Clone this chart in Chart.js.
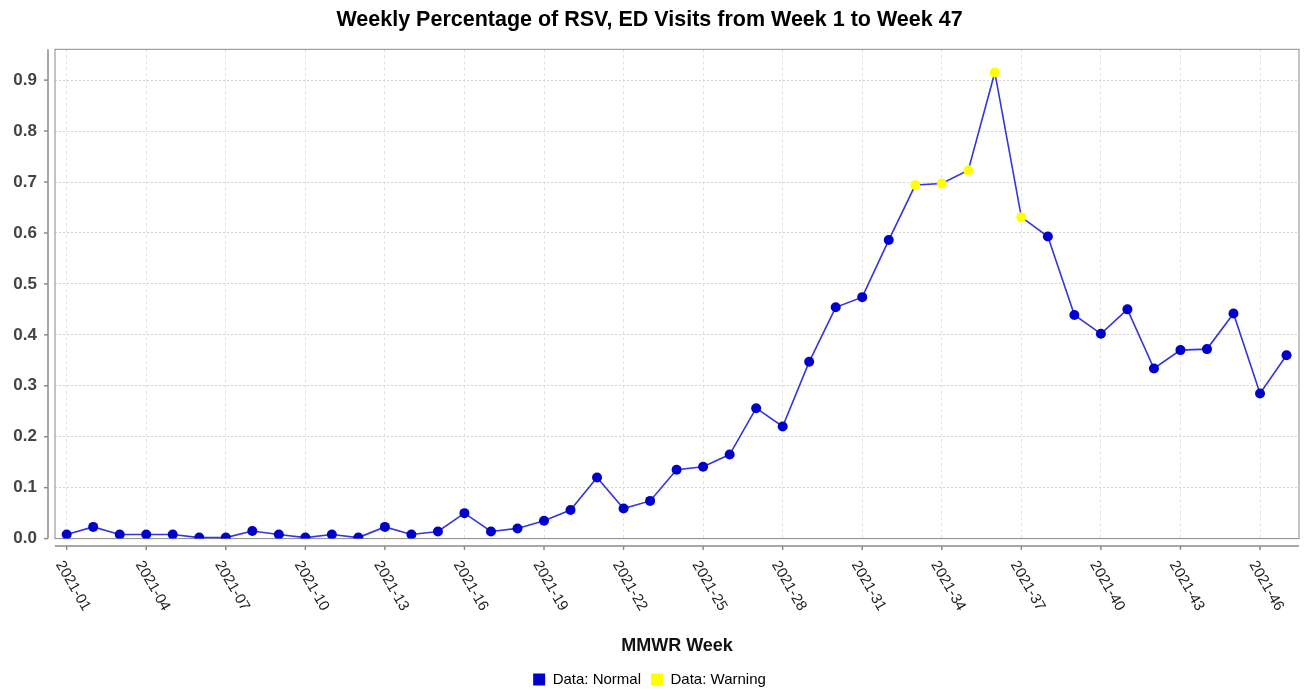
<!DOCTYPE html>
<html>
<head>
<meta charset="utf-8">
<script src="https://cdn.jsdelivr.net/npm/chart.js@4/dist/chart.umd.min.js"></script>
<style>
  html, body { margin: 0; padding: 0; background: #ffffff; }
  #wrap { width: 1306px; height: 690px; position: relative; }
</style>
</head>
<body>
<div id="wrap"><canvas id="c"></canvas></div>
<script>
const weeks = [
  "2021-01","2021-02","2021-03","2021-04","2021-05","2021-06","2021-07","2021-08","2021-09","2021-10",
  "2021-11","2021-12","2021-13","2021-14","2021-15","2021-16","2021-17","2021-18","2021-19","2021-20",
  "2021-21","2021-22","2021-23","2021-24","2021-25","2021-26","2021-27","2021-28","2021-29","2021-30",
  "2021-31","2021-32","2021-33","2021-34","2021-35","2021-36","2021-37","2021-38","2021-39","2021-40",
  "2021-41","2021-42","2021-43","2021-44","2021-45","2021-46","2021-47"
];
const values = [
  0.008, 0.023, 0.008, 0.008, 0.008, 0.002, 0.002, 0.015, 0.008, 0.002,
  0.008, 0.002, 0.023, 0.008, 0.014, 0.050, 0.014, 0.020, 0.035, 0.056,
  0.120, 0.059, 0.074, 0.135, 0.141, 0.165, 0.256, 0.220, 0.347, 0.454,
  0.474, 0.586, 0.694, 0.697, 0.723, 0.915, 0.631, 0.593, 0.439, 0.402,
  0.450, 0.334, 0.370, 0.372, 0.442, 0.285, 0.360
];
const status = [
  "Normal","Normal","Normal","Normal","Normal","Normal","Normal","Normal","Normal","Normal",
  "Normal","Normal","Normal","Normal","Normal","Normal","Normal","Normal","Normal","Normal",
  "Normal","Normal","Normal","Normal","Normal","Normal","Normal","Normal","Normal","Normal",
  "Normal","Normal","Warning","Warning","Warning","Warning","Warning","Normal","Normal","Normal",
  "Normal","Normal","Normal","Normal","Normal","Normal","Normal"
];
const xTickLabels = [
  "2021-01","2021-04","2021-07","2021-10","2021-13","2021-16","2021-19","2021-22",
  "2021-25","2021-28","2021-31","2021-34","2021-37","2021-40","2021-43","2021-46"
];
const yTickValues = [0.0, 0.1, 0.2, 0.3, 0.4, 0.5, 0.6, 0.7, 0.8, 0.9];

const titleText = "Weekly Percentage of RSV, ED Visits from Week 1 to Week 47";
const xTitleText = "MMWR Week";
const legendNames = ["Data: Normal", "Data: Warning"];
const statusColors = { Normal: "#0000cc", Warning: "#ffff00" };
const FONT = "'Liberation Sans', Arial, sans-serif";

const points = values.map((v, i) => ({ x: i + 1, y: v }));

const axesPlugin = {
  id: 'offsetAxes',
  beforeDatasetsDraw(chart) {
    const { ctx, chartArea: a } = chart;
    ctx.save();
    ctx.strokeStyle = '#8a8a8a';
    ctx.lineWidth = 1;
    ctx.strokeRect(a.left, a.top, a.right - a.left, a.bottom - a.top);
    ctx.restore();
  },
  afterDraw(chart) {
    const { ctx, chartArea: a, scales } = chart;
    const xs = scales.x, ys = scales.y;
    const line = (x1, y1, x2, y2) => { ctx.beginPath(); ctx.moveTo(x1, y1); ctx.lineTo(x2, y2); ctx.stroke(); };
    ctx.save();
    ctx.strokeStyle = '#8a8a8a';
    ctx.lineWidth = 1.5;
    const yAxisX = a.left - 7;
    line(yAxisX, a.top, yAxisX, a.bottom);
    ys.ticks.forEach(t => {
      const py = ys.getPixelForValue(t.value);
      line(yAxisX - 4, py, yAxisX, py);
    });
    const xAxisY = a.bottom + 7.3;
    line(a.left, xAxisY, a.right, xAxisY);
    ctx.fillStyle = '#222222';
    ctx.font = "15px " + FONT;
    ctx.textAlign = 'left';
    ctx.textBaseline = 'middle';
    xs.ticks.forEach(t => {
      const px = xs.getPixelForValue(t.value);
      line(px, xAxisY, px, xAxisY + 4);
      ctx.save();
      ctx.translate(px - 7.5, a.bottom + 23.5);
      ctx.rotate(Math.PI / 3);
      ctx.fillText(weeks[Math.round(t.value) - 1], 0, 0);
      ctx.restore();
    });
    ctx.restore();
  }
};

new Chart(document.getElementById('c'), {
  type: 'line',
  data: {
    datasets: [{
      label: legendNames[0],
      data: points,
      borderColor: '#3535dc',
      borderWidth: 1.6,
      tension: 0,
      fill: false,
      pointRadius: 5,
      pointBorderWidth: 0,
      pointBackgroundColor: status.map(s => statusColors[s]),
      pointBorderColor: status.map(s => statusColors[s])
    }]
  },
  options: {
    responsive: true,
    maintainAspectRatio: false,
    animation: false,
    devicePixelRatio: 1,
    layout: { padding: { top: 0, left: 0, right: 7, bottom: -7 } },
    plugins: {
      tooltip: { enabled: false },
      title: {
        display: true,
        text: titleText,
        color: '#000000',
        font: { family: FONT, size: 21.5, weight: 'bold', lineHeight: 1.2 },
        padding: { top: 6.9, bottom: 16.6 }
      },
      legend: {
        display: true,
        position: 'bottom',
        labels: {
          boxWidth: 12,
          boxHeight: 12,
          padding: 10,
          color: '#222222',
          font: { family: FONT, size: 15 },
          generateLabels: () => legendNames.map((n, i) => ({
            text: n,
            fillStyle: i === 0 ? statusColors.Normal : statusColors.Warning,
            strokeStyle: i === 0 ? statusColors.Normal : statusColors.Warning,
            lineWidth: 0,
            hidden: false,
            datasetIndex: 0
          }))
        },
        onClick: () => {}
      }
    },
    scales: {
      x: {
        type: 'linear',
        min: 0.56,
        max: 47.47,
        afterBuildTicks: (scale) => {
          scale.ticks = xTickLabels.map(l => ({ value: weeks.indexOf(l) + 1 }));
        },
        afterFit: (scale) => { scale.height = 123.4; },
        ticks: { display: false, callback: (v) => weeks[Math.round(v) - 1] },
        grid: { color: '#e2e2e2', lineWidth: 1, drawTicks: false },
        border: { display: false, dash: [3, 3] },
        title: {
          display: true,
          text: xTitleText,
          color: '#111111',
          font: { family: FONT, size: 18, weight: 'bold', lineHeight: 1.2 },
          padding: { top: 0, bottom: 5.2 }
        }
      },
      y: {
        type: 'linear',
        min: 0,
        max: 0.9605,
        afterBuildTicks: (scale) => {
          scale.ticks = yTickValues.map(v => ({ value: v }));
        },
        afterFit: (scale) => { scale.width = 55; },
        ticks: {
          padding: 18,
          color: '#444444',
          font: { family: FONT, size: 17, weight: 'bold' },
          callback: (v) => Number(v).toFixed(1)
        },
        grid: { color: '#d2d2d2', lineWidth: 1, drawTicks: false },
        border: { display: false, dash: [2, 2] }
      }
    }
  },
  plugins: [axesPlugin]
});
</script>
</body>
</html>
